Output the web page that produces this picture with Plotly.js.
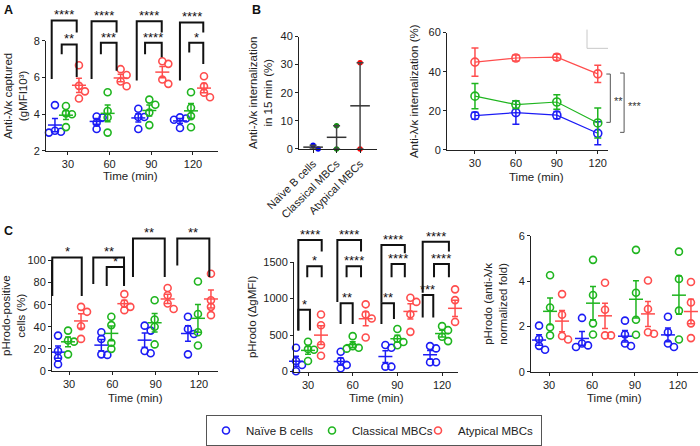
<!DOCTYPE html>
<html><head><meta charset="utf-8">
<script src="https://cdn.plot.ly/plotly-3.0.1.min.js"></script>
<style>html,body{margin:0;padding:0;background:#fff}#chart{width:700px;height:446px}</style>
</head><body><div id="chart"></div>
<script>
// ---------------- DATA ----------------
const times = [30, 60, 90, 120];
const groupNames = ['Naïve B cells', 'Classical MBCs', 'Atypical MBCs'];

// A: anti-λ/κ captured (gMFI ×10³), donors per time point
const capNaive     = [[4.5, 3.1, 3.05, 3.0], [3.88, 3.82, 3.54, 3.2], [4.3, 3.85, 3.2, 3.85], [3.83, 3.77, 3.7, 3.25]];
const capClassical = [[4.45, 4.05, 4.0, 3.3], [5.2, 4.18, 3.82, 3.0], [4.52, 4.8, 4.1, 3.41], [5.2, 4.36, 3.9, 3.29]];
const capAtypical  = [[6.67, 5.55, 5.25, 4.86], [6.46, 6.14, 5.79, 5.53], [6.89, 6.75, 5.9, 5.66], [6.07, 5.53, 5.18, 4.93]];

// B left: internalization in 15 min (%)
const int15Naive = [1.3, 0];
const int15Classical = [8.3, 0];
const int15Atypical = [30.7, 0];

// B right: internalization over time (%), mean and error
const intNaiveMean = [17.5, 19.1, 17.8, 8.5];
const intNaiveErr = [1.8, 6.0, 1.8, 5.9];
const intClassicalMean = [27.5, 23.2, 24.5, 13.8];
const intClassicalErr = [6.5, 2.0, 3.7, 7.7];
const intAtypicalMean = [44.9, 47.0, 47.4, 38.9];
const intAtypicalErr = [7.2, 1.5, 1.5, 4.4];
const intSig = [['**', 38.8, 14.1], ['***', 39.3, 9.0]];

// C left: pHrodo-positive cells (%)
const posNaive     = [[32, 18, 12, 6], [35, 29, 14.5, 15], [41, 36.5, 16, 18], [49, 38, 33.5, 15]];
const posClassical = [[36.5, 27.5, 26.5, 15], [49, 41.5, 25.5, 20], [64, 46.5, 40, 24], [81, 51.5, 35, 23]];
const posAtypical  = [[58, 53.5, 40.5, 29], [69.5, 61, 58, 55], [75, 68.5, 61, 56], [88, 64, 58, 50.5]];

// C middle: pHrodo (ΔgMFI)
const gmfiNaive     = [[327, 146, 91, 5], [272, 146, 91, 46], [364, 327, 68, 68], [350, 318, 128, 128]];
const gmfiClassical = [[409, 309, 300, 146], [486, 350, 327, 315], [585, 450, 405, 362], [623, 568, 477, 418]];
const gmfiAtypical  = [[782, 636, 364, 218], [922, 782, 727, 468], [955, 1013, 785, 545], [1127, 980, 681, 681]];

// C right: pHrodo normalized fold
const foldNaive     = [[2.04, 1.45, 1.15, 0.98], [2.38, 1.25, 1.17, 1.1], [2.26, 1.65, 1.25, 1.14], [2.43, 1.75, 1.25, 1.1]];
const foldClassical = [[4.26, 2.84, 1.97, 1.61], [4.94, 3.39, 2.14, 1.65], [5.38, 3.49, 2.3, 1.64], [5.3, 4.1, 2.7, 1.43]];
const foldAtypical  = [[3.43, 2.52, 1.58, 1.43], [3.93, 2.74, 1.61, 1.61], [4.03, 2.77, 1.68, 1.75], [3.96, 3.06, 2.14, 1.49]];

// significance brackets: [time, left offset, right offset, top, left leg end, right leg end, label]
const sigA = [
  [30, -11.7, 6.3, 9.12, 5.93, 8.46, '****'], [30, -4.5, 6.3, 7.81, 7.27, 6.04, '**'],
  [60, -13, 5, 9.07, 5.93, 8.46, '****'], [60, -6.3, 5, 7.90, 7.27, 6.38, '***'],
  [90, -10.5, 7.5, 9.07, 5.84, 8.46, '****'], [90, -4.5, 7.5, 7.90, 7.27, 7.11, '****'],
  [120, -9.4, 7.4, 9.01, 5.84, 8.46, '****'], [120, -2.7, 7.4, 7.90, 7.37, 6.74, '*']
];
const sigCL = [
  [30, -11.6, 8.8, 102.7, 67.9, 67.9, '*'],
  [60, -13.2, 8.1, 102.7, 78.6, 78.6, '**'], [60, -3.9, 8.1, 94, 76.8, 76.8, '*'],
  [90, -15.7, 6.3, 119.9, 85.1, 85.1, '**'],
  [120, -15, 7.2, 119.9, 95.5, 85.1, '**']
];
const sigCM = [
  [30, -6.5, 9.2, 1803, 563, 1645, '****'], [30, -0.5, 9.2, 1442, 1293, 1293, '*'], [30, -6.5, 1.3, 847, 563, 563, '*'],
  [60, -10.3, 5.6, 1803, 955, 1645, '****'], [60, -4.1, 5.6, 1442, 1293, 1293, '****'], [60, -8.1, 0, 938, 654, 654, '**'],
  [90, -10.7, 5, 1735, 946, 1622, '****'], [90, -3.9, 5, 1473, 1293, 1293, '****'], [90, -10.7, -2.3, 938, 654, 722, '**'],
  [120, -13, 4.6, 1780, 1081, 1645, '****'], [120, -5.4, 4.6, 1473, 1293, 1293, '****'], [120, -13, -5.9, 1050, 743, 743, '***']
];

// ---------------- STYLE / LAYOUT ----------------
const W = 700, H = 446;
const FONT = '"Liberation Sans", Arial, Helvetica, sans-serif';
const colors = ['#1c1cf5', '#1fb51f', '#ff4d4d'];
const solidColors = ['#0000ff', '#108c10', '#ff0000'];
// subplot boxes in px [left, right, top, bottom]
const P = {
  A:  {sfx: '',  box: [46, 218, 41.5, 153],   xr: [14.2, 138],   yr: [2, 8],    offs: [-13, -2, 11]},
  BL: {sfx: '2', box: [299, 377, 37, 151],    xr: [-0.6, 2.72],  yr: [0, 40]},
  BR: {sfx: '3', box: [447, 608, 33, 152],    xr: [9.5, 127.5],  yr: [0, 60]},
  CL: {sfx: '4', box: [52, 218, 264, 376],    xr: [18.2, 133.2], yr: [0, 100],  offs: [-11, -1, 12]},
  CM: {sfx: '5', box: [294, 458, 265.7, 376.7], xr: [20.6, 130.7], yr: [0, 1500], offs: [-12, 0, 13]},
  CR: {sfx: '6', box: [531, 698, 239, 377],   xr: [17.4, 134],   yr: [0, 6],    offs: [-10, 1, 13]}
};
function kx(p) { const b = P[p].box, r = P[p].xr; return (b[1] - b[0]) / (r[1] - r[0]); }
function ky(p) { const b = P[p].box, r = P[p].yr; return (b[3] - b[2]) / (r[1] - r[0]); }
function pxX(p, v) { return P[p].box[0] + (v - P[p].xr[0]) * kx(p); }
function pxY(p, v) { return P[p].box[3] - (v - P[p].yr[0]) * ky(p); }
const fx = px => px / W, fy = py => 1 - py / H;

function mean(a) { return a.reduce((s, v) => s + v, 0) / a.length; }
function sem(a) { const m = mean(a); const v = a.reduce((s, x) => s + (x - m) * (x - m), 0) / (a.length - 1); return Math.sqrt(v / a.length); }

// simple beeswarm: returns x offsets in px
function swarm(p, vals, step, minD) {
  const k = ky(p);
  const order = vals.map((v, i) => i).sort((a, b) => vals[b] - vals[a]);
  const placed = [], out = new Array(vals.length);
  for (const i of order) {
    const yp = vals[i] * k;
    for (const s of [0, 1, -1, 2, -2, 3, -3]) {
      const xp = s * step;
      if (placed.every(q => Math.hypot(q[0] - xp, q[1] - yp) >= minD)) { placed.push([xp, yp]); out[i] = xp; break; }
    }
  }
  return out;
}

const traces = [];
function dotPanel(p, groups, legend) {
  const s = P[p].sfx;
  groups.forEach((data, g) => {
    const xs = [], ys = [], mx = [], my = [], me = [];
    data.forEach((vals, i) => {
      const t = times[i];
      const center = t + P[p].offs[g] / kx(p);
      const off = swarm(p, vals, 6, 6);
      vals.forEach((v, j) => { xs.push(center + off[j] / kx(p)); ys.push(v); });
      mx.push(center); my.push(mean(vals)); me.push(sem(vals));
    });
    traces.push({type: 'scatter', mode: 'markers', x: xs, y: ys, xaxis: 'x' + s, yaxis: 'y' + s,
      name: groupNames[g], showlegend: !!legend, legendgroup: groupNames[g], cliponaxis: false, hoverinfo: 'skip',
      marker: {symbol: 'circle-open', size: 7, color: colors[g], line: {width: 1.6}}});
    traces.push({type: 'scatter', mode: 'markers', x: mx, y: my, xaxis: 'x' + s, yaxis: 'y' + s,
      showlegend: false, cliponaxis: false, hoverinfo: 'skip',
      marker: {symbol: 'line-ew-open', size: 10, color: colors[g], line: {width: 1.5}},
      error_y: {type: 'data', array: me, visible: true, color: colors[g], thickness: 1.5, width: 3}});
  });
}
dotPanel('A', [capNaive, capClassical, capAtypical], true);
dotPanel('CL', [posNaive, posClassical, posAtypical]);
dotPanel('CM', [gmfiNaive, gmfiClassical, gmfiAtypical]);
dotPanel('CR', [foldNaive, foldClassical, foldAtypical]);

// B left
[int15Naive, int15Classical, int15Atypical].forEach((vals, g) => {
  const k = kx('BL');
  const off = swarm('BL', vals, 5, 5.5);
  traces.push({type: 'scatter', mode: 'markers', x: vals.map((v, j) => g + off[j] / k), y: vals,
    xaxis: 'x2', yaxis: 'y2', showlegend: false, cliponaxis: false, hoverinfo: 'skip',
    marker: {symbol: 'circle', size: 5.5, color: solidColors[g]}});
  traces.push({type: 'scatter', mode: 'markers', x: [g], y: [mean(vals)], xaxis: 'x2', yaxis: 'y2',
    showlegend: false, cliponaxis: false, hoverinfo: 'skip',
    marker: {symbol: 'line-ew-open', size: 14, color: '#333', line: {width: 1.5}},
    error_y: {type: 'data', array: [sem(vals)], visible: true, color: '#444', thickness: 1.5, width: 3.5}});
});

// B right
[[intNaiveMean, intNaiveErr], [intClassicalMean, intClassicalErr], [intAtypicalMean, intAtypicalErr]].forEach((d, g) => {
  traces.push({type: 'scatter', mode: 'lines+markers', x: times, y: d[0], xaxis: 'x3', yaxis: 'y3',
    showlegend: false, cliponaxis: false, hoverinfo: 'skip',
    line: {color: colors[g], width: 1.2},
    marker: {symbol: 'circle-open', size: 8, color: colors[g], line: {width: 1.6}},
    error_y: {type: 'data', array: d[1], visible: true, color: colors[g], thickness: 1.5, width: 3.5}});
});

// axes
const axisBase = {showline: true, linecolor: '#222', linewidth: 1, ticks: 'outside', ticklen: 3, tickwidth: 1,
  tickcolor: '#222', showgrid: false, zeroline: false, tickfont: {size: 11, color: '#222', family: FONT}, fixedrange: true};
const titleFont = {size: 11.5, color: '#222', family: FONT};
const layout = {
  width: W, height: H, margin: {l: 0, r: 0, t: 0, b: 0}, paper_bgcolor: '#fff', plot_bgcolor: 'rgba(0,0,0,0)',
  font: {family: FONT, color: '#222'},
  showlegend: true,
  legend: {orientation: 'h', x: 206 / W, xanchor: 'left', y: fy(421), yanchor: 'top',
    bordercolor: '#555', borderwidth: 1, font: {size: 11.5, color: '#222', family: FONT},
    itemwidth: 30, entrywidth: 61, entrywidthmode: 'pixels', itemclick: false, tracegroupgap: 0},
  shapes: [], annotations: []
};
const yTitles = {
  A:  ['Anti-λ/κ captured<br>(gMFI10³)', 3],
  BL: ['Anti-λ/κ internalization<br>in 15 min (%)', 5],
  BR: ['Anti-λ/κ internalization (%)', 7],
  CL: ['pHrodo-positive<br>cells (%)', 4],
  CM: ['pHrodo (ΔgMFI)', 4],
  CR: ['pHrodo (anti-λ/κ<br>normalized fold)', 8]
};
// x-axis titles placed just under the tick labels: [panel, centre x px, centre y px]
const xTitles = [['A', 130, 178], ['BR', 536, 179], ['CL', 135, 403], ['CM', 376, 403], ['CR', 614, 403]];
const yTicks = {A: [2, 4, 6, 8], BL: [0, 10, 20, 30, 40], BR: [0, 20, 40, 60], CL: [0, 20, 40, 60, 80, 100], CM: [0, 500, 1000, 1500], CR: [0, 2, 4, 6]};
Object.keys(P).forEach(p => {
  const s = P[p].sfx, b = P[p].box;
  const xa = Object.assign({}, axisBase, {domain: [fx(b[0]), fx(b[1])], range: P[p].xr, anchor: 'y' + s});
  const ya = Object.assign({}, axisBase, {domain: [fy(b[3]), fy(b[2])], range: P[p].yr, anchor: 'x' + s, tickvals: yTicks[p]});
  if (p === 'BL') { xa.tickvals = [0, 1, 2]; xa.ticktext = groupNames; xa.tickangle = -45; }
  else { xa.tickvals = times; }
  ya.title = {text: yTitles[p][0], font: titleFont, standoff: yTitles[p][1]};
  layout['xaxis' + s] = xa; layout['yaxis' + s] = ya;
});
xTitles.forEach(t => {
  layout.annotations.push({xref: 'paper', yref: 'paper', x: fx(t[1]), y: fy(t[2]), xanchor: 'center', yanchor: 'middle',
    showarrow: false, text: 'Time (min)', font: titleFont});
});

// significance brackets (paper coordinates computed from each panel's scale)
function topBrackets(p, list, lw) {
  list.forEach(b => {
    const [t, o0, o1, yt, yl, yr, lab] = b;
    const x0 = fx(pxX(p, t + o0)), x1 = fx(pxX(p, t + o1));
    const y0 = fy(pxY(p, yl)), y1 = fy(pxY(p, yt)), y2 = fy(pxY(p, yr));
    layout.shapes.push({type: 'path', xref: 'paper', yref: 'paper',
      path: `M ${x0},${y0} L ${x0},${y1} L ${x1},${y1} L ${x1},${y2}`, line: {color: '#111', width: lw}});
    layout.annotations.push({xref: 'paper', yref: 'paper', x: (x0 + x1) / 2, y: y1, xanchor: 'center', yanchor: 'bottom',
      yshift: -4, showarrow: false, text: lab, font: {size: 13, color: '#111', family: FONT}});
  });
}
topBrackets('A', sigA, 2);
topBrackets('CL', sigCL, 2);
topBrackets('CM', sigCM, 2);

// B right vertical brackets
const brX = [129.2, 139.3];
intSig.forEach((b, i) => {
  const xl = pxX('BR', brX[i]);
  const yt = pxY('BR', b[1]), yb = pxY('BR', b[2]);
  layout.shapes.push({type: 'path', xref: 'paper', yref: 'paper',
    path: `M ${fx(xl - 4)},${fy(yt)} L ${fx(xl)},${fy(yt)} L ${fx(xl)},${fy(yb)} L ${fx(xl - 4)},${fy(yb)}`,
    line: {color: '#555', width: 1}});
  layout.annotations.push({xref: 'paper', yref: 'paper', x: fx(xl + 2), y: fy((yt + yb) / 2), xanchor: 'left', yanchor: 'middle',
    yshift: -3, showarrow: false, text: b[0], font: {size: 11, color: '#333', family: FONT}});
});
// faint corner mark in B right
layout.shapes.push({type: 'path', xref: 'paper', yref: 'paper',
  path: `M ${fx(587)},${fy(30)} L ${fx(587)},${fy(49)} L ${fx(608)},${fy(49)}`, line: {color: '#c8c8c8', width: 1}});

// panel letters
[['A', 2, 1], ['B', 250, 1], ['C', 2, 225]].forEach(l => {
  layout.annotations.push({xref: 'paper', yref: 'paper', x: fx(l[1]), y: fy(l[2]), xanchor: 'left', yanchor: 'top',
    showarrow: false, text: '<b>' + l[0] + '</b>', font: {size: 12.5, color: '#111', family: FONT}});
});

// legend entry widths
traces.filter(t => t.showlegend).forEach((t, i) => { if (i === 2) t.legendwidth = 78; });

Plotly.newPlot('chart', traces, layout, {staticPlot: true, displayModeBar: false});
</script>
</body></html>
